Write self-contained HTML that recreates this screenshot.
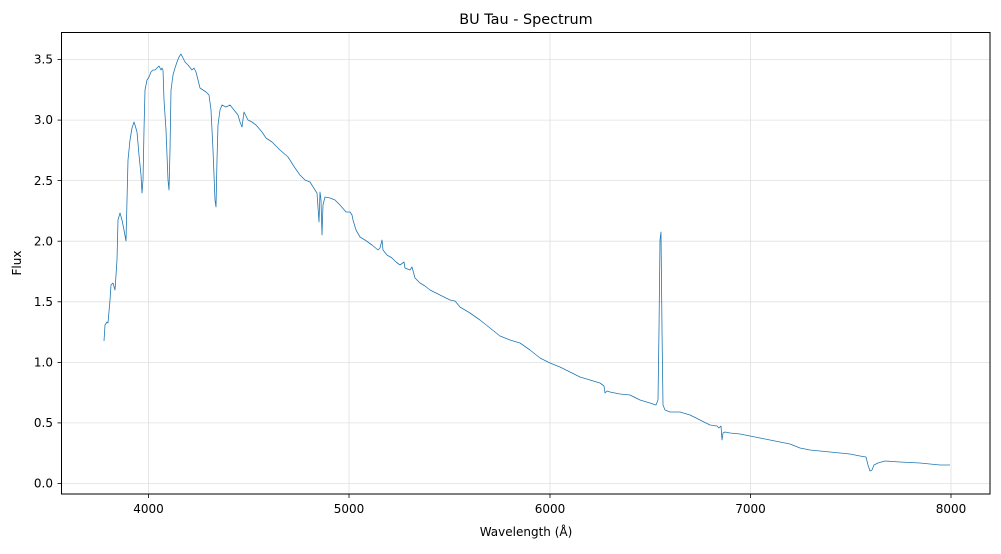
<!DOCTYPE html>
<html><head><meta charset="utf-8"><style>
body{margin:0;background:#fff;font-family:"Liberation Sans","DejaVu Sans",sans-serif;}
</style></head><body>
<svg width="1001" height="549" xmlns="http://www.w3.org/2000/svg" font-family="DejaVu Sans, Liberation Sans, sans-serif">
<rect width="1001" height="549" fill="#fff"/>
<g stroke="#e0e0e0" stroke-width="0.8">
<line x1="148.5" y1="32.5" x2="148.5" y2="494"/>
<line x1="349" y1="32.5" x2="349" y2="494"/>
<line x1="550" y1="32.5" x2="550" y2="494"/>
<line x1="750.5" y1="32.5" x2="750.5" y2="494"/>
<line x1="951" y1="32.5" x2="951" y2="494"/>
<line x1="61.5" y1="483.5" x2="990" y2="483.5"/>
<line x1="61.5" y1="422.9" x2="990" y2="422.9"/>
<line x1="61.5" y1="362.4" x2="990" y2="362.4"/>
<line x1="61.5" y1="301.8" x2="990" y2="301.8"/>
<line x1="61.5" y1="241.2" x2="990" y2="241.2"/>
<line x1="61.5" y1="180.6" x2="990" y2="180.6"/>
<line x1="61.5" y1="120.1" x2="990" y2="120.1"/>
<line x1="61.5" y1="59.5" x2="990" y2="59.5"/>
</g>
<polyline fill="none" stroke="#1f77b4" stroke-width="0.8" stroke-linejoin="round" points="104,341 105,325 107,322 108,323 110,300 111,285 113,283 115,290 117,260 118,220 120,213 122,220 124,230 126,241 127,200 128,160 130,140 132,128 134,122 135,125 137,132 139,155 141,175 142,193 143,180 144,130 145,90 147,80 149,77 151,72 153,70 155,70 157,68 159,66 161,70 162,68 163,70 164,100 166,130 168,180 169,190 170,150 171,90 173,75 175,68 177,62 179,57 181,54 183,58 185,62 188,65 192,70 194,68 196,72 198,80 200,88 203,90 206,92 209,95 211,110 213,150 215,200 216,207 217,160 218,125 220,110 222,105 226,107 230,105 234,110 238,115 240,122 242,127 244,112 248,120 252,122 256,125 262,132 266,138 272,142 280,150 288,157 295,168 300,175 305,180 310,182 315,190 317,193 319,222 320,192 321,200 322,235 323,205 325,197 330,198 335,200 340,205 346,212 350,212 352,215 353,220 356,230 360,237 365,240 372,245 378,250 380,248 382,240 383,250 387,255 392,258 396,262 400,265 404,262 405,268 410,270 412,267 415,278 420,283 425,286 430,290 440,295 450,300 455,301 460,307 470,313 480,320 490,328 500,336 510,340 520,343 530,350 540,358 550,363 560,367 570,372 580,377 590,380 600,383 604,386 605,393 607,391 610,392 620,394 630,395 640,400 650,403 656,405 658,400 659,330 660,240 661,232 662,330 663,405 665,410 670,412 680,412 690,415 700,420 710,425 717,426 719,428 721,426 722,440 723,433 725,432 730,433 740,434 750,436 760,438 770,440 780,442 790,444 800,448 810,450 820,451 830,452 840,453 850,454 860,456 866,457 868,465 870,471 872,470 874,465 878,463 885,461 900,462 920,463 940,465 950,465"/>
<rect x="61.5" y="32.5" width="928.5" height="461.5" fill="none" stroke="#000" stroke-width="1"/>
<g stroke="#000" stroke-width="0.8">
<line x1="148.5" y1="494" x2="148.5" y2="498"/><line x1="349" y1="494" x2="349" y2="498"/><line x1="550" y1="494" x2="550" y2="498"/><line x1="750.5" y1="494" x2="750.5" y2="498"/><line x1="951" y1="494" x2="951" y2="498"/>
<line x1="57.5" y1="483.5" x2="61.5" y2="483.5"/><line x1="57.5" y1="422.9" x2="61.5" y2="422.9"/><line x1="57.5" y1="362.4" x2="61.5" y2="362.4"/><line x1="57.5" y1="301.8" x2="61.5" y2="301.8"/><line x1="57.5" y1="241.2" x2="61.5" y2="241.2"/><line x1="57.5" y1="180.6" x2="61.5" y2="180.6"/><line x1="57.5" y1="120.1" x2="61.5" y2="120.1"/><line x1="57.5" y1="59.5" x2="61.5" y2="59.5"/>
</g>
<g font-size="12" fill="#000" text-anchor="middle">
<text x="148.5" y="513">4000</text><text x="349" y="513">5000</text><text x="550" y="513">6000</text><text x="750.5" y="513">7000</text><text x="951" y="513">8000</text>
</g>
<g font-size="12" fill="#000" text-anchor="end">
<text x="53" y="487.5">0.0</text><text x="53" y="427">0.5</text><text x="53" y="366.5">1.0</text><text x="53" y="306">1.5</text><text x="53" y="245.5">2.0</text><text x="53" y="185">2.5</text><text x="53" y="124">3.0</text><text x="53" y="63.5">3.5</text>
</g>
<text x="526" y="536" font-size="12" text-anchor="middle">Wavelength (Å)</text>
<text x="21" y="263" font-size="12" text-anchor="middle" transform="rotate(-90 21 263)">Flux</text>
<text x="526" y="24" font-size="14.4" text-anchor="middle">BU Tau - Spectrum</text>
</svg>
</body></html>
